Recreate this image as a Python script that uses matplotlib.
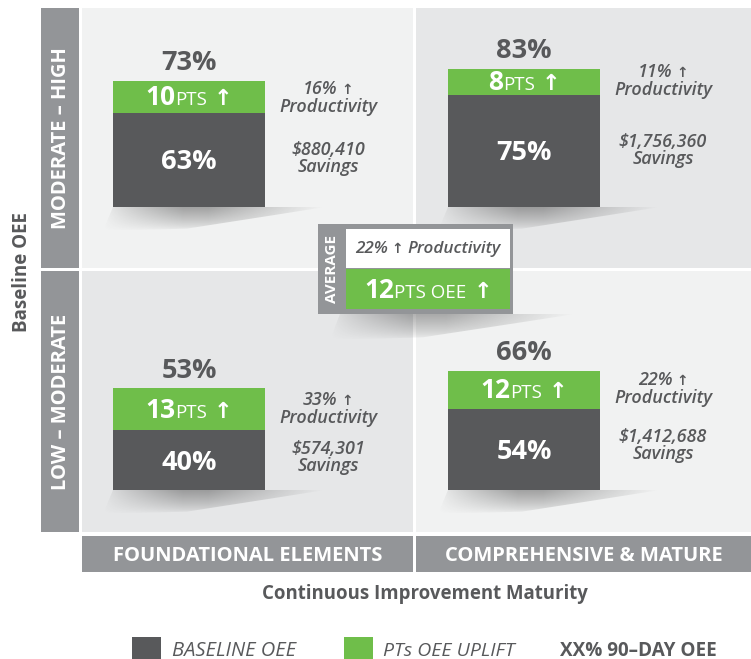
import matplotlib
matplotlib.use("Agg")
import matplotlib.pyplot as plt
from matplotlib.patches import Rectangle, Polygon
import numpy as np

# ---------------- data ----------------
col_labels = ["FOUNDATIONAL ELEMENTS", "COMPREHENSIVE & MATURE"]
row_labels = ["MODERATE – HIGH", "LOW – MODERATE"]
x_title = "Continuous Improvement Maturity"
y_title = "Baseline OEE"
# quadrant order: top-left, top-right, bottom-left, bottom-right
baseline_oee = [63, 75, 40, 54]
uplift_pts = [10, 8, 13, 12]
day90_oee = [73, 83, 53, 66]
productivity_pct = [16, 11, 33, 22]
savings = ["$880,410", "$1,756,360", "$574,301", "$1,412,688"]
avg_productivity_pct = 22
avg_uplift_pts = 12
legend_labels = ["BASELINE OEE", "PTs OEE UPLIFT", "XX% 90–DAY OEE"]

# ---------------- style ----------------
DARK = "#58595b"
GREEN = "#6fbe4a"
BAND = "#939598"
LIGHT_Q = "#f1f2f2"
DARK_Q = "#e6e7e8"
plt.rcParams['font.family'] = ['Open Sans', 'DejaVu Sans']

W, H = 751, 659
fig = plt.figure(figsize=(W / 100, H / 100), dpi=100)
ax = fig.add_axes([0, 0, 1, 1])
ax.set_xlim(0, W)
ax.set_ylim(H, 0)
ax.axis('off')
R = fig.canvas.get_renderer()

# layout
col_x = [(82, 413), (416, 751)]
row_y = [(8, 268), (271, 532)]
bar_cx = [189, 524]
bar_w = 152
bar_bottom = [207, 490]
side_cx = [328, 663]
BASE_SCALE = 1.5    # px per OEE %
UP_SCALE = 3.2      # px per uplift point
side_y = [(89, 150), (72, 142), (400, 449), (380, 437)]

# quadrant backgrounds
qcolors = [LIGHT_Q, DARK_Q, DARK_Q, LIGHT_Q]
for i in range(4):
    c, r = i % 2, i // 2
    (x0, x1), (y0, y1) = col_x[c], row_y[r]
    ax.add_patch(Rectangle((x0, y0), x1 - x0, y1 - y0, facecolor=qcolors[i], edgecolor='none', zorder=0))

# row label bands
for r in range(2):
    y0, y1 = row_y[r]
    ax.add_patch(Rectangle((41, y0), 38, y1 - y0, facecolor=BAND, edgecolor='none', zorder=0))
    ax.text(61, (y0 + y1) / 2, row_labels[r], rotation=90, ha='center', va='center',
            color='white', fontsize=14.5, fontweight='bold')
# column label bands
for c in range(2):
    x0, x1 = col_x[c]
    ax.add_patch(Rectangle((x0, 536), x1 - x0, 36, facecolor=BAND, edgecolor='none', zorder=0))
    ax.text((x0 + x1) / 2, 554 + 7, col_labels[c], ha='center', va='baseline',
            color='white', fontsize=14.5, fontweight='bold')

ax.text(425, 592 + 6.5, x_title, ha='center', va='baseline', color=DARK, fontsize=13.4, fontweight='bold')
ax.text(22, 272, y_title, rotation=90, ha='center', va='center', color=DARK, fontsize=13.5, fontweight='bold')


def rich(xc, y, pieces, gaps=None, zorder=5):
    texts, widths = [], []
    for s, props in pieces:
        t = ax.text(0, y, s, va='baseline', ha='left', zorder=zorder, **props)
        texts.append(t)
        widths.append(t.get_window_extent(renderer=R).width)
    gaps = gaps or [0] * (len(pieces) - 1)
    total = sum(widths) + sum(gaps)
    x = xc - total / 2
    for k, (t, w) in enumerate(zip(texts, widths)):
        t.set_x(x)
        x += w + (gaps[k] if k < len(gaps) else 0)


def shadow(x0, x1, ytop, depth, amax=0.42, zorder=1):
    pts = [(x0 - 10, ytop + depth), (x0, ytop), (x1, ytop),
           (x1 - (x1 - x0) * 0.25, ytop + depth * 0.35),
           (x0 + (x1 - x0) * 0.35, ytop + depth * 0.9)]
    poly = Polygon(pts, closed=True, facecolor='none', edgecolor='none')
    ax.add_patch(poly)
    nx, ny = 300, 50
    xs = np.linspace(x0 - 10, x1, nx)
    ys = np.linspace(ytop, ytop + depth, ny)
    X, Y = np.meshgrid(xs, ys)
    left = np.clip((X - (x0 - 10)) / 80.0, 0, 1)
    right = np.clip((x1 - X) / ((x1 - x0) * 0.55), 0, 1)
    g = (left ** 0.8) * (right ** 1.1)
    v = np.clip(1 - (Y - ytop) / depth, 0, 1) ** 0.8
    img = np.zeros((ny, nx, 4))
    img[..., :3] = 0.2
    img[..., 3] = amax * g * v
    im = ax.imshow(img, extent=(x0 - 10, x1, ytop + depth, ytop), origin='upper',
                   interpolation='bilinear', aspect='auto', zorder=zorder)
    im.set_clip_path(poly)


it = dict(color=DARK, fontsize=13, style='italic', fontweight='semibold')

# bars
for i in range(4):
    c, r = i % 2, i // 2
    b = bar_bottom[r]
    bh = baseline_oee[i] * BASE_SCALE
    uh = uplift_pts[i] * UP_SCALE
    shadow(bar_cx[c] - bar_w / 2, bar_cx[c] + bar_w / 2 + 60, b, 24)
    ax.bar(bar_cx[c], -bh, bottom=b, width=bar_w, color=DARK, linewidth=0, zorder=2)
    ax.bar(bar_cx[c], -uh, bottom=b - bh, width=bar_w, color=GREEN, linewidth=0, zorder=2)
    # labels
    ax.text(bar_cx[c], b - bh / 2 + 9.5, f"{baseline_oee[i]}%", ha='center', va='baseline',
            color='white', fontsize=19.5, fontweight='bold', zorder=5)
    top = b - bh - uh
    ax.text(bar_cx[c], top - 20 + 9.5, f"{day90_oee[i]}%", ha='center', va='baseline',
            color=DARK, fontsize=19.5, fontweight='bold', zorder=5)
    gy = b - bh - uh / 2 + 8.5
    rich(bar_cx[c], gy, [(f"{uplift_pts[i]}", dict(color='white', fontsize=19, fontweight='bold')),
                         ("PTS", dict(color='white', fontsize=13.5)),
                         ("↑", dict(color='white', fontsize=16, fontweight='bold', family='DejaVu Sans'))],
         gaps=[0, 7])
    # side text
    py, sy = side_y[i]
    rich(side_cx[c], py + 5, [(f"{productivity_pct[i]}%", it),
                              ("↑", dict(color=DARK, fontsize=10, fontweight='bold', family='DejaVu Sans'))],
         gaps=[4])
    ax.text(side_cx[c], py + 18 + 5, "Productivity", ha='center', va='baseline', zorder=5, **it)
    ax.text(side_cx[c], sy + 5, savings[i], ha='center', va='baseline', zorder=5, **it)
    ax.text(side_cx[c], sy + 17 + 5, "Savings", ha='center', va='baseline', zorder=5, **it)

# average box
shadow(340, 575, 314, 26, amax=0.38, zorder=3)
ax.add_patch(Rectangle((318, 224), 195, 90, facecolor=BAND, edgecolor='none', zorder=4))
ax.add_patch(Rectangle((346, 229), 164, 39, facecolor='white', edgecolor='none', zorder=4))
ax.add_patch(Rectangle((346, 269), 164, 40, facecolor=GREEN, edgecolor='none', zorder=4))
ax.text(332, 269, "AVERAGE", rotation=90, ha='center', va='center', color='white',
        fontsize=11, fontweight='bold', zorder=5)
ita = dict(it, fontsize=12.3)
rich(428, 248 + 5, [(f"{avg_productivity_pct}%", ita),
                    ("↑", dict(color=DARK, fontsize=10, fontweight='bold', family='DejaVu Sans')),
                    ("Productivity", ita)], gaps=[3, 4])
rich(428, 289 + 8.5, [(f"{avg_uplift_pts}", dict(color='white', fontsize=19, fontweight='bold')),
                      ("PTS OEE", dict(color='white', fontsize=13.5)),
                      ("↑", dict(color='white', fontsize=16, fontweight='bold', family='DejaVu Sans'))],
     gaps=[0, 7])

# legend
ax.add_patch(Rectangle((132, 637), 29, 24, facecolor=DARK, edgecolor='none', zorder=2))
ax.add_patch(Rectangle((344, 637), 29, 24, facecolor=GREEN, edgecolor='none', zorder=2))
ax.text(172, 649 + 6.5, legend_labels[0], ha='left', va='baseline', color=DARK, fontsize=14.5, style='italic')
ax.text(383, 649 + 6.5, legend_labels[1], ha='left', va='baseline', color=DARK, fontsize=14, style='italic')
ax.text(560, 649 + 6.5, legend_labels[2], ha='left', va='baseline', color=DARK, fontsize=13.6, fontweight='bold')

fig.savefig("out.png", dpi=100)
